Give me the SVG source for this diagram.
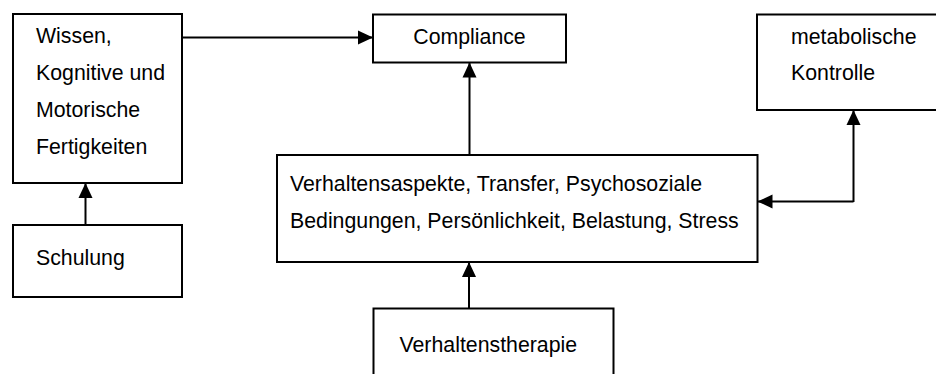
<svg xmlns="http://www.w3.org/2000/svg" width="936" height="374" viewBox="0 0 936 374">
  <style>
    .box { fill: #ffffff; stroke: #000000; stroke-width: 2; }
    .lbl { font-family: "Liberation Sans", Arial, sans-serif; font-size: 21.3px; fill: #000000; }
    .conn { fill: none; stroke: #000000; stroke-width: 2; marker-end: url(#arrow); }
  </style>
  <defs>
    <marker id="arrow" markerUnits="userSpaceOnUse" markerWidth="15" markerHeight="15" refX="15" refY="7.5" orient="auto">
      <path d="M0,0.5 L15,7.5 L0,14.5 z" fill="#000000"/>
    </marker>
  </defs>
  <rect width="936" height="374" fill="#ffffff"/>

  <g id="wissen">
    <rect class="box" x="13" y="14" width="169" height="169"/>
    <text class="lbl" x="36" y="43">Wissen,</text>
    <text class="lbl" x="36" y="80">Kognitive und</text>
    <text class="lbl" x="36" y="116.5">Motorische</text>
    <text class="lbl" x="36" y="153.5">Fertigkeiten</text>
  </g>

  <g id="compliance">
    <rect class="box" x="373" y="14.5" width="193" height="48"/>
    <text class="lbl" x="469.5" y="43.5" text-anchor="middle">Compliance</text>
  </g>

  <g id="metabolische">
    <rect class="box" x="757" y="14.5" width="190" height="95.5"/>
    <text class="lbl" x="791" y="43.5">metabolische</text>
    <text class="lbl" x="791" y="80">Kontrolle</text>
  </g>

  <g id="verhalten">
    <rect class="box" x="277" y="155" width="480.5" height="107"/>
    <text class="lbl" x="290" y="191">Verhaltensaspekte, Transfer, Psychosoziale</text>
    <text class="lbl" x="290" y="227.5">Bedingungen, Persönlichkeit, Belastung, Stress</text>
  </g>

  <g id="schulung">
    <rect class="box" x="13" y="225" width="169" height="72"/>
    <text class="lbl" x="36" y="265">Schulung</text>
  </g>

  <g id="verhaltenstherapie">
    <rect class="box" x="373.5" y="308.5" width="240" height="80"/>
    <text class="lbl" x="399.5" y="351.5">Verhaltenstherapie</text>
  </g>

  <g id="connectors">
    <path class="conn" d="M182,37.5 L373,37.5"/>
    <path class="conn" d="M469.5,155 L469.5,62.5"/>
    <path class="conn" d="M85.5,225 L85.5,183"/>
    <path class="conn" d="M469,308.5 L469,262"/>
    <path class="conn" d="M853.5,202 L853.5,110"/>
    <path class="conn" d="M853.5,201.5 L757.5,201.5"/>
  </g>
</svg>
